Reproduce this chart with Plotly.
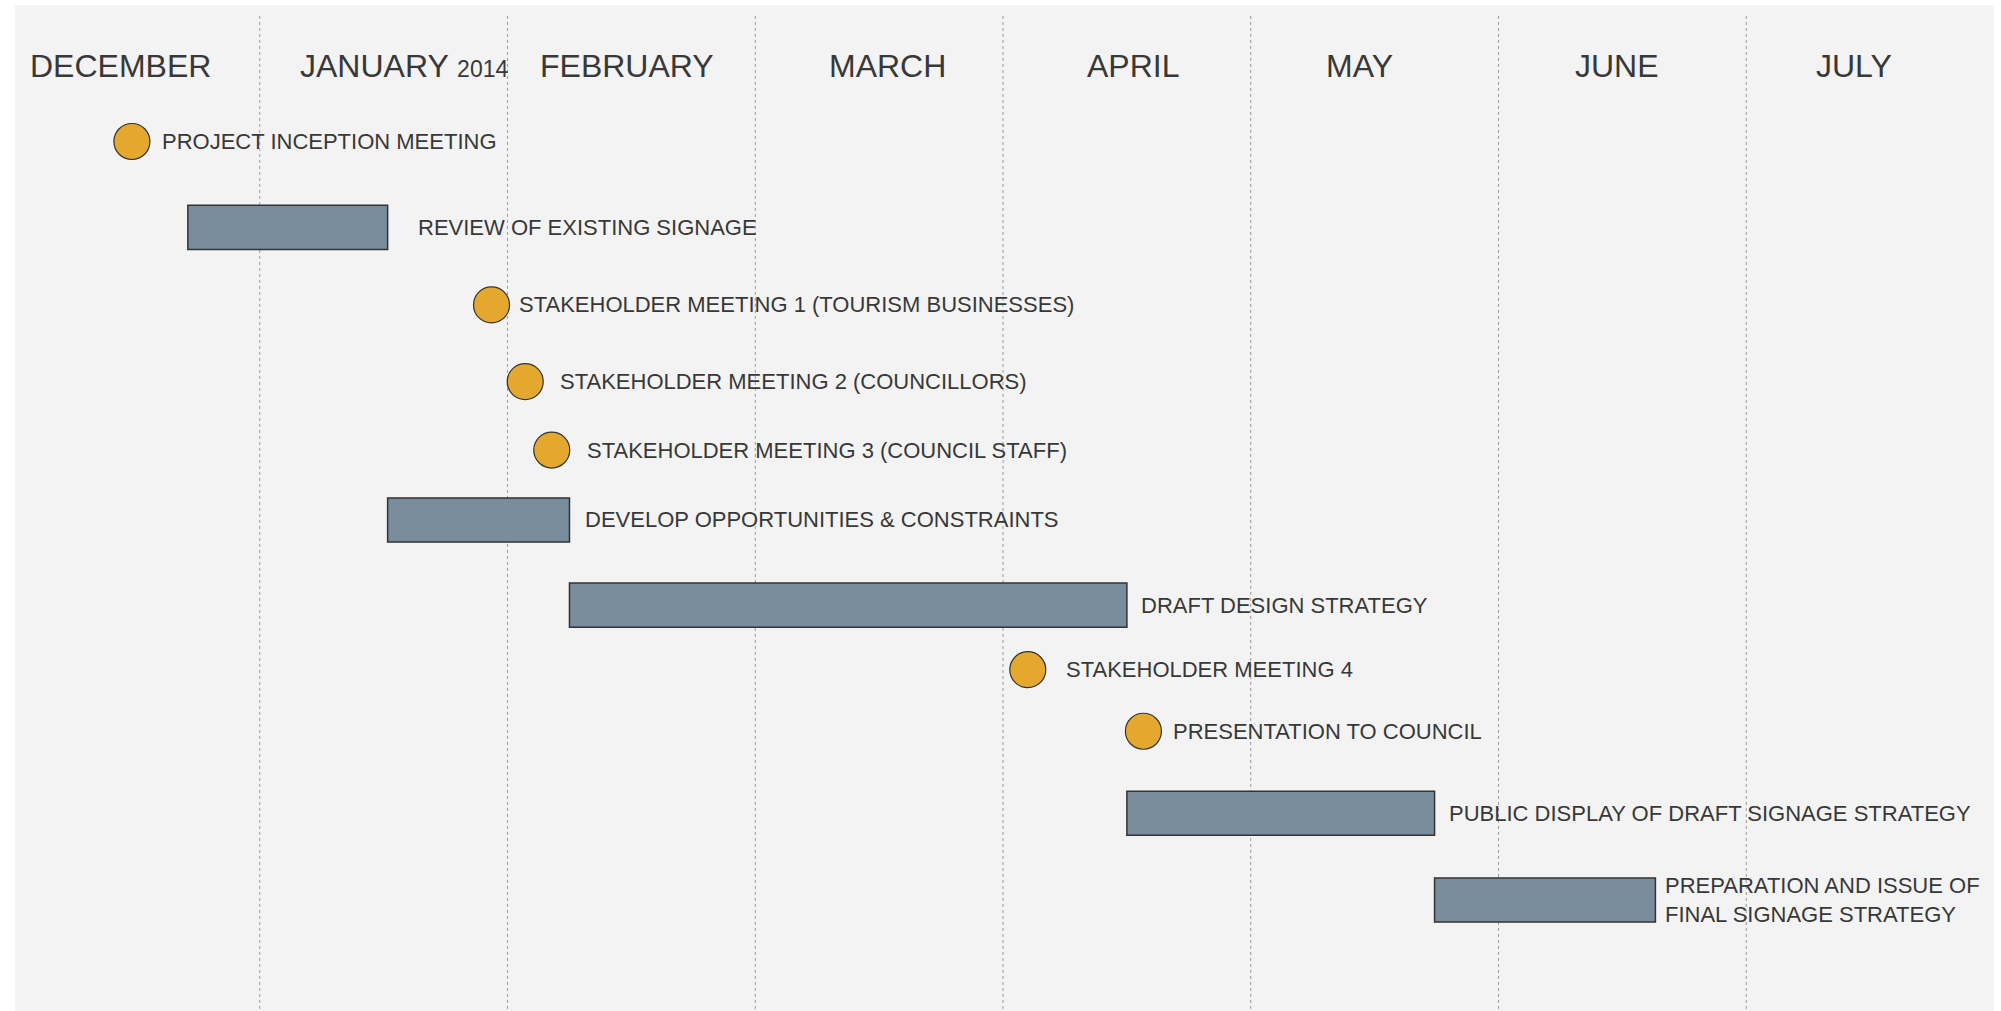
import calendar
from datetime import date
import plotly.graph_objects as go

# ---------------- data ----------------
tasks = [
    "PROJECT INCEPTION MEETING",
    "REVIEW OF EXISTING SIGNAGE",
    "STAKEHOLDER MEETING 1 (TOURISM BUSINESSES)",
    "STAKEHOLDER MEETING 2 (COUNCILLORS)",
    "STAKEHOLDER MEETING 3 (COUNCIL STAFF)",
    "DEVELOP OPPORTUNITIES &amp; CONSTRAINTS",
    "DRAFT DESIGN STRATEGY",
    "STAKEHOLDER MEETING 4",
    "PRESENTATION TO COUNCIL",
    "PUBLIC DISPLAY OF DRAFT SIGNAGE STRATEGY",
    "PREPARATION AND ISSUE OF<br>FINAL SIGNAGE STRATEGY",
]
kinds = ["milestone", "task", "milestone", "milestone", "milestone", "task",
         "task", "milestone", "milestone", "task", "task"]
start_dates = ["2013-12-16", "2013-12-23", "2014-01-30", "2014-02-03", "2014-02-06",
               "2014-01-17", "2014-02-08", "2014-04-04", "2014-04-18", "2014-04-16",
               "2014-05-24"]
end_dates = [None, "2014-01-17", None, None, None, "2014-02-08", "2014-04-16",
             None, None, "2014-05-24", "2014-06-20"]
month_names = ["DECEMBER", "JANUARY", "FEBRUARY", "MARCH", "APRIL", "MAY", "JUNE", "JULY"]
year_label = "2014"

# ---------------- layout helpers (positions / styles) ----------------
row_y = [0.02, 1.15, 2.17, 3.18, 4.08, 5.0, 6.12, 6.97, 7.78, 8.86, 10.0]
label_gap = [10, 28, 7, 15, 15, 14, 12, 18, 10, 12, 8]
month_label_shift = [-15, 20, -4, 8, 6, -15, -5, -16]

FONT = "Liberation Sans"
TEXT = "#383838"
BAR_FILL = "#7a8d9c"
DOT_FILL = "#e3a82d"
EDGE = "#333333"
CIRCLE = 36


def mpos(s):
    d = date.fromisoformat(s)
    idx = (d.year - 2013) * 12 + d.month - 12
    days = calendar.monthrange(d.year, d.month)[1]
    return idx + (d.day - 1) / days


fig = go.Figure()

# bars
b_idx = [i for i, k in enumerate(kinds) if k == "task"]
fig.add_trace(go.Bar(
    orientation="h",
    base=[mpos(start_dates[i]) for i in b_idx],
    x=[mpos(end_dates[i]) - mpos(start_dates[i]) for i in b_idx],
    y=[row_y[i] for i in b_idx],
    width=0.58,
    marker=dict(color=BAR_FILL, line=dict(color=EDGE, width=1.5)),
    hoverinfo="skip",
))

# milestones
m_idx = [i for i, k in enumerate(kinds) if k == "milestone"]
fig.add_trace(go.Scatter(
    mode="markers",
    x=[mpos(start_dates[i]) for i in m_idx],
    y=[row_y[i] for i in m_idx],
    marker=dict(size=CIRCLE, color=DOT_FILL, line=dict(color=EDGE, width=1.2)),
    hoverinfo="skip",
))

# task labels
for i, t in enumerate(tasks):
    if kinds[i] == "task":
        xa = mpos(end_dates[i])
        shift = label_gap[i]
    else:
        xa = mpos(start_dates[i])
        shift = CIRCLE / 2 + label_gap[i]
    fig.add_annotation(
        x=xa, y=row_y[i], xref="x", yref="y", text=t, showarrow=False,
        xanchor="left", yanchor="middle", xshift=shift, align="left",
        font=dict(family=FONT, size=22, color=TEXT),
    )

# month labels
for k, name in enumerate(month_names):
    txt = name
    if k == 1:
        txt = name + " <span style='font-size:23px'>" + year_label + "</span>"
    fig.add_annotation(
        x=k + 0.5, y=-0.974, xref="x", yref="y", text=txt, showarrow=False,
        xanchor="center", yanchor="middle", xshift=month_label_shift[k],
        font=dict(family=FONT, size=32, color=TEXT),
    )

# month divider lines
for k in range(1, len(month_names)):
    fig.add_shape(type="line", x0=k, x1=k, y0=-1.632, y1=11.5, xref="x", yref="y",
                  line=dict(color="#9a9a9a", width=1, dash="dot"), layer="below")

fig.update_layout(
    width=2001, height=1011,
    margin=dict(l=15, r=7, t=5, b=0, pad=0),
    paper_bgcolor="white", plot_bgcolor="#f3f3f3",
    showlegend=False,
    xaxis=dict(range=[0.012, 8.0], visible=False, showgrid=False, zeroline=False),
    yaxis=dict(range=[11.461, -1.776], visible=False, showgrid=False, zeroline=False),
    font=dict(family=FONT, color=TEXT),
)

fig.write_html("out.html", config={"displayModeBar": False},
               post_script="document.body.style.margin='0';")
